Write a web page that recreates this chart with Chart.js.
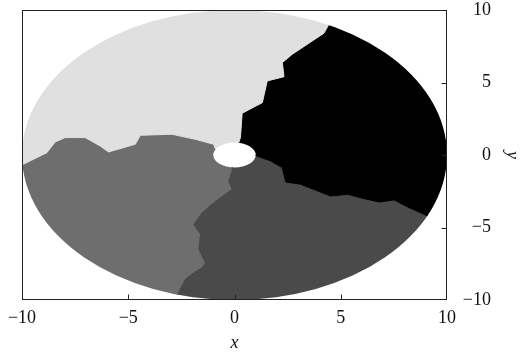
<!DOCTYPE html>
<html>
<head>
<meta charset="utf-8">
<script src="https://cdn.jsdelivr.net/npm/chart.js@4/dist/chart.umd.min.js"></script>
<style>
  html, body { margin: 0; padding: 0; background: #fff; }
  #wrap { width: 521px; height: 352px; }
</style>
</head>
<body>
<div id="wrap"><canvas id="c"></canvas></div>
<script>
// Axis ticks
const xTicks = [-10, -5, 0, 5, 10];
const yTicks = [-10, -5, 0, 5, 10];

// Disk of radius 10 with a small elliptical void at the origin
const diskRadius = 10;
const voidRadiusX = 1.0;
const voidRadiusY = 0.86;

// Interfaces between the four domains, each traced from the centre outwards
const edgeLightBlack = [[0, 0], [0.28, 1.2], [0.36, 2.88], [1.31, 3.61], [1.54, 5.11], [2.33, 5.4],
  [2.25, 6.37], [2.72, 6.95], [4.21, 8.4], [4.53, 9.24], [4.9, 10.5]];
const edgeBlackDark = [[0, 0], [0.83, 0.05], [1.15, -0.12], [1.7, -0.41], [2.25, -0.87], [2.41, -1.86],
  [3.11, -2.02], [4.53, -2.83], [5.32, -2.71], [6.1, -3.01], [6.81, -3.24], [7.51, -3.1],
  [8.15, -3.58], [9.09, -4.2], [9.7, -4.6]];
const edgeDarkMid = [[0, 0], [-0.11, -0.64], [-0.11, -1.1], [-0.27, -1.79], [-0.11, -2.36], [-0.98, -3.29],
  [-1.52, -3.98], [-1.92, -4.78], [-1.6, -5.47], [-1.68, -6.5], [-1.37, -7.43], [-1.52, -7.77],
  [-1.92, -8.12], [-2.31, -8.57], [-2.63, -9.49], [-2.9, -10.3]];
const edgeMidLight = [[0, 0], [-0.9, 0.4], [-0.98, 0.74], [-1.84, 1.08], [-2.94, 1.43], [-4.43, 1.36],
  [-4.67, 0.74], [-5.93, 0.21], [-6.32, 0.62], [-7.03, 1.2], [-7.97, 1.2], [-8.44, 0.9],
  [-8.83, 0.16], [-9.94, -0.64], [-10.6, -1.1]];

// Closing points outside the disk (cut away by the disk outline)
const outerLightBlack = [[5, 13]];
const outerBlackDark = [[13, -4.6]];
const outerDarkMid = [[-2.9, -13]];
const outerMidLight = [[-13, -1.1]];
const outerNE = [[13, 13]];
const outerNW = [[-13, 13]];
const outerSE = [[13, -13]];
const outerSW = [[-13, -13]];

const toXY = pts => pts.map(([x, y]) => ({ x, y }));
const rev = pts => pts.slice().reverse();

function domain(first, outer, second) {
  return toXY([...first, ...outer, ...rev(second)]);
}

const domains = [
  { data: domain(edgeLightBlack, [...outerLightBlack, ...outerNW, ...outerMidLight], edgeMidLight), color: '#e0e0e0' },
  { data: domain(edgeLightBlack, [...outerLightBlack, ...outerNE, ...outerBlackDark], edgeBlackDark), color: '#000000' },
  { data: domain(edgeBlackDark, [...outerBlackDark, ...outerSE, ...outerDarkMid], edgeDarkMid), color: '#4a4a4a' },
  { data: domain(edgeDarkMid, [...outerDarkMid, ...outerSW, ...outerMidLight], edgeMidLight), color: '#6e6e6e' }
];

const minus = v => String(v).replace('-', '\u2212');
const serif = "'Liberation Serif', 'Times New Roman', serif";

// Restrict the domain fills to the disk minus the central void
const diskClip = {
  id: 'diskClip',
  beforeDatasetsDraw(chart) {
    const { ctx, scales: { x, y } } = chart;
    const cx = x.getPixelForValue(0), cy = y.getPixelForValue(0);
    const rx = Math.abs(x.getPixelForValue(diskRadius) - cx);
    const ry = Math.abs(y.getPixelForValue(diskRadius) - cy);
    const hx = Math.abs(x.getPixelForValue(voidRadiusX) - cx);
    const hy = Math.abs(y.getPixelForValue(voidRadiusY) - cy);
    ctx.save();
    ctx.beginPath();
    ctx.ellipse(cx, cy, rx, ry, 0, 0, Math.PI * 2);
    ctx.moveTo(cx + hx, cy);
    ctx.ellipse(cx, cy, hx, hy, 0, 0, Math.PI * 2, true);
    ctx.clip('evenodd');
  },
  afterDatasetsDraw(chart) {
    chart.ctx.restore();
  }
};

// Frame around the plot with inward tick marks on the bottom and right sides
const frame = {
  id: 'frame',
  afterDraw(chart) {
    const { ctx, chartArea: a, scales: { x, y } } = chart;
    const L = Math.round(a.left) + 0.5, R = Math.round(a.right) - 0.5;
    const T = Math.round(a.top) + 0.5, B = Math.round(a.bottom) - 0.5;
    ctx.save();
    ctx.strokeStyle = '#222';
    ctx.lineWidth = 1;
    ctx.strokeRect(L, T, R - L, B - T);
    ctx.beginPath();
    xTicks.slice(1, -1).forEach(v => {
      const px = Math.round(x.getPixelForValue(v)) + 0.5;
      ctx.moveTo(px, B);
      ctx.lineTo(px, B - 5);
    });
    yTicks.slice(1, -1).forEach(v => {
      const py = Math.round(y.getPixelForValue(v)) + 0.5;
      ctx.moveTo(R, py);
      ctx.lineTo(R - 5, py);
    });
    ctx.stroke();
    ctx.restore();
  }
};

new Chart(document.getElementById('c'), {
  type: 'scatter',
  data: {
    datasets: domains.map(d => ({
      data: d.data,
      showLine: true,
      fill: 'shape',
      backgroundColor: d.color,
      borderColor: d.color,
      borderWidth: 1,
      pointRadius: 0,
      pointHoverRadius: 0,
      tension: 0
    }))
  },
  options: {
    responsive: true,
    maintainAspectRatio: false,
    animation: false,
    events: [],
    layout: { padding: { top: 10, left: 22, right: 0, bottom: 0 } },
    plugins: { legend: { display: false }, tooltip: { enabled: false } },
    scales: {
      x: {
        type: 'linear',
        position: 'bottom',
        min: -10, max: 10,
        afterBuildTicks: s => { s.ticks = xTicks.map(v => ({ value: v })); },
        afterFit: s => { s.height = 52; s.paddingLeft = 0; s.paddingRight = 0; },
        grid: { display: false, drawTicks: false },
        border: { display: false },
        ticks: {
          padding: 7,
          color: '#111',
          font: { family: serif, size: 18 },
          maxRotation: 0,
          autoSkip: false,
          callback: minus
        },
        title: {
          display: true,
          text: 'x',
          color: '#111',
          font: { family: serif, size: 18, style: 'italic', lineHeight: 1 },
          padding: { top: 0, bottom: 0 }
        }
      },
      y: {
        type: 'linear',
        position: 'right',
        weight: 0,
        min: -10, max: 10,
        afterBuildTicks: s => { s.ticks = yTicks.map(v => ({ value: v })); },
        afterFit: s => { s.width = 44; s.paddingTop = 0; s.paddingBottom = 0; },
        grid: { display: false, drawTicks: false },
        border: { display: false },
        ticks: {
          crossAlign: 'far',
          color: '#111',
          font: { family: serif, size: 18 },
          autoSkip: false,
          callback: minus
        }
      },
      yTitle: {
        type: 'linear',
        position: 'right',
        weight: 1,
        min: -10, max: 10,
        afterFit: s => { s.width = 30; s.paddingTop = 0; s.paddingBottom = 0; },
        grid: { display: false, drawTicks: false },
        border: { display: false },
        ticks: { display: false },
        title: {
          display: true,
          text: 'y',
          color: '#111',
          font: { family: serif, size: 18, style: 'italic', lineHeight: 1 },
          padding: 0
        }
      }
    }
  },
  plugins: [diskClip, frame]
});
</script>
</body>
</html>
